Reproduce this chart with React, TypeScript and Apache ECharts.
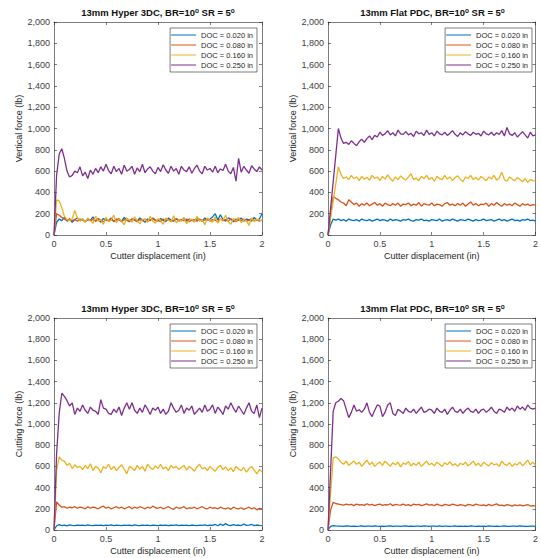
import React, { useEffect, useRef } from 'react';
import * as echarts from 'echarts';

// Cutter displacement samples (in)
const xs = [
  0, 0.025, 0.05, 0.075, 0.1, 0.125, 0.15, 0.175, 0.2, 0.225,
  0.25, 0.275, 0.3, 0.325, 0.35, 0.375, 0.4, 0.425, 0.45, 0.475,
  0.5, 0.525, 0.55, 0.575, 0.6, 0.625, 0.65, 0.675, 0.7, 0.725,
  0.75, 0.775, 0.8, 0.825, 0.85, 0.875, 0.9, 0.925, 0.95, 0.975,
  1, 1.025, 1.05, 1.075, 1.1, 1.125, 1.15, 1.175, 1.2, 1.225,
  1.25, 1.275, 1.3, 1.325, 1.35, 1.375, 1.4, 1.425, 1.45, 1.475,
  1.5, 1.525, 1.55, 1.575, 1.6, 1.625, 1.65, 1.675, 1.7, 1.725,
  1.75, 1.775, 1.8, 1.825, 1.85, 1.875, 1.9, 1.925, 1.95, 1.975,
  2,
];

const docNames = ['DOC = 0.020 in', 'DOC = 0.080 in', 'DOC = 0.160 in', 'DOC = 0.250 in'];

const xTicks = [0, 0.5, 1, 1.5, 2];
const yTickStep = 200;
const yMax = 2000;

// Vertical force, 13mm Hyper 3DC
const vH020 = [
  0, 120, 150, 135, 165, 130, 150, 120, 145, 160,
  135, 150, 125, 145, 140, 170, 130, 150, 120, 155,
  140, 135, 160, 125, 150, 140, 130, 165, 140, 125,
  150, 145, 130, 160, 140, 120, 150, 135, 160, 140,
  130, 155, 140, 125, 160, 140, 130, 150, 145, 135,
  160, 130, 150, 140, 125, 155, 145, 130, 160, 140,
  150, 170, 200, 140, 190, 145, 130, 160, 150, 125,
  150, 140, 160, 130, 150, 145, 130, 165, 140, 150,
  200,
];
const vH080 = [
  0, 200, 185, 165, 150, 140, 150, 135, 145, 130,
  150, 140, 125, 150, 135, 145, 130, 155, 140, 125,
  145, 135, 150, 130, 140, 155, 125, 145, 140, 130,
  150, 140, 125, 145, 135, 150, 130, 140, 155, 135,
  140, 125, 150, 135, 145, 130, 140, 155, 130, 145,
  135, 150, 125, 140, 145, 130, 150, 135, 140, 155,
  130, 145, 140, 125, 150, 135, 145, 130, 150, 140,
  125, 145, 135, 150, 130, 140, 155, 135, 145, 130,
  140,
];
const vH160 = [
  0, 330, 320, 255, 175, 145, 135, 150, 230, 160,
  130, 150, 120, 160, 135, 110, 175, 130, 145, 100,
  165, 125, 140, 185, 115, 150, 130, 95, 160, 140,
  120, 170, 135, 105, 150, 145, 120, 175, 130, 110,
  155, 135, 100, 160, 140, 125, 180, 115, 145, 130,
  165, 105, 140, 150, 120, 175, 130, 145, 95, 160,
  135, 120, 170, 110, 150, 140, 185, 125, 100, 155,
  130, 165, 115, 145, 135, 90, 160, 125, 150, 140,
  135,
];
const vH250 = [
  0, 560, 760, 810, 720, 600, 545, 560, 600, 585,
  640, 555, 590, 530, 610, 570, 625, 585, 640, 600,
  665, 605, 575, 645, 595, 625, 570, 655, 600, 615,
  645, 570, 630, 595, 665, 585, 620, 640, 600, 575,
  635, 595, 660, 610, 580, 645, 600, 625, 570, 645,
  610, 595, 640, 580, 625, 655, 600, 575, 645, 610,
  625, 590, 645, 585, 620, 605, 665, 600, 575, 635,
  505, 720, 590, 645, 610, 580, 650, 620, 595, 640,
  610,
];

// Vertical force, 13mm Flat PDC
const vF020 = [
  0, 95, 150, 140, 150, 135, 145, 130, 150, 140,
  135, 145, 130, 150, 140, 135, 145, 130, 140, 150,
  135, 145, 140, 130, 150, 135, 145, 140, 130, 145,
  140, 150, 135, 130, 145, 140, 150, 135, 140, 130,
  145, 140, 135, 150, 130, 140, 145, 135, 150, 140,
  130, 145, 140, 135, 150, 140, 130, 145, 135, 140,
  150, 135, 140, 145, 130, 140, 150, 135, 145, 130,
  140, 150, 135, 140, 130, 145, 140, 150, 135, 140,
  130,
];
const vF080 = [
  0, 185, 360, 345, 330, 310, 300, 275, 330, 310,
  285, 300, 270, 295, 280, 300, 275, 290, 305, 280,
  295, 270, 300, 285, 275, 295, 280, 300, 270, 290,
  285, 300, 275, 290, 280, 305, 270, 295, 285, 280,
  300, 275, 290, 285, 270, 295, 305, 280, 290, 275,
  295, 280, 300, 270, 290, 310, 280, 295, 275, 290,
  285, 300, 270, 295, 280, 305, 285, 270, 295, 280,
  290, 275, 300, 285, 270, 295, 280, 290, 275, 285,
  280,
];
const vF160 = [
  0, 160, 320, 480, 640, 570, 530, 545, 520, 560,
  530, 545, 510, 550, 525, 540, 515, 560, 530, 545,
  510, 550, 525, 565, 530, 505, 545, 520, 555, 530,
  515, 545, 575, 520, 535, 510, 550, 530, 560, 520,
  540, 505, 550, 530, 520, 560, 525, 545, 510, 540,
  555, 525, 500, 545, 530, 560, 520, 540, 515, 550,
  530, 510, 545, 525, 560, 515, 535, 590, 520, 505,
  545, 525, 510, 540, 520, 500, 530, 495, 520, 510,
  505,
];
const vF250 = [
  0, 250, 500, 750, 1000, 910, 860, 870, 850, 885,
  860, 840, 875, 900, 870, 905, 930, 895, 935, 920,
  965, 935, 950, 980, 940, 960, 930, 985, 950, 945,
  970, 940, 955, 925, 975, 950, 960, 935, 985, 945,
  960, 930, 975, 950, 940, 965, 935, 955, 980, 945,
  925, 960, 940, 970, 950, 935, 965, 945, 955, 930,
  975, 950, 940, 965, 935, 960, 945, 980, 930, 1010,
  950, 935, 960, 920, 945, 970, 940, 910, 965, 930,
  940,
];

// Cutting force, 13mm Hyper 3DC
const cH020 = [
  0, 40, 50, 42, 46, 40, 48, 44, 42, 47,
  43, 45, 41, 48, 44, 42, 46, 43, 47, 41,
  45, 43, 48, 42, 46, 44, 41, 47, 43, 45,
  42, 48, 44, 41, 46, 43, 47, 42, 45, 44,
  41, 47, 43, 46, 42, 45, 44, 48, 41, 46,
  43, 45, 42, 47, 44, 41, 46, 43, 48, 42,
  45, 44, 52, 40, 55, 42, 60, 45, 41, 50,
  44, 47, 42, 55, 43, 46, 52, 41, 47, 44,
  42,
];
const cH080 = [
  0, 265, 235, 215, 220, 205, 215, 210, 220, 205,
  215, 210, 200, 220, 205, 215, 210, 200, 215, 225,
  205, 215, 200, 210, 220, 205, 215, 200, 210, 220,
  200, 215, 205, 220, 210, 200, 215, 205, 225, 210,
  205, 215, 200, 210, 220, 205, 195, 215, 205, 210,
  220, 200, 210, 205, 215, 200, 210, 220, 205, 200,
  215, 205, 210, 200, 215, 205, 200, 210, 195, 215,
  205, 200, 210, 195, 205, 215, 200, 210, 190, 205,
  200,
];
const cH160 = [
  0, 560, 690, 660, 650, 610, 630, 580, 615, 590,
  600, 570, 610, 580, 625, 560, 600, 585, 540, 600,
  580, 620, 570, 600, 560, 590, 615, 575, 530, 600,
  585, 560, 610, 575, 600, 555, 620, 590, 570, 605,
  580, 620, 575, 595, 560, 610, 585, 600, 570, 590,
  610, 565, 600, 580, 555, 595, 620, 575, 590, 560,
  600, 575, 555, 590, 610, 570, 595, 560, 585, 550,
  600, 575, 560, 590, 545, 580, 600, 565, 530, 570,
  550,
];
const cH250 = [
  0, 720, 1100, 1290, 1260, 1220, 1170, 1200, 1090, 1150,
  1120, 1180, 1130, 1100, 1160, 1130, 1120, 1090, 1230, 1150,
  1140, 1100, 1090, 1140, 1110, 1160, 1080, 1150, 1200, 1140,
  1200, 1130, 1100, 1150, 1110, 1180, 1140, 1090, 1150, 1130,
  1160, 1100, 1140, 1090, 1120, 1200, 1150, 1110, 1130, 1180,
  1100, 1150, 1130, 1170, 1090, 1120, 1150, 1110, 1180, 1120,
  1140, 1180, 1100, 1160, 1130, 1090, 1170, 1140, 1200, 1150,
  1110, 1170, 1130, 1090, 1150, 1200, 1120, 1100, 1180, 1060,
  1150,
];

// Cutting force, 13mm Flat PDC
const cF020 = [
  0, 35, 42, 38, 36, 37, 35, 38, 36, 34,
  37, 35, 36, 38, 34, 36, 37, 35, 38, 36,
  35, 37, 34, 36, 38, 35, 36, 37, 34, 36,
  38, 35, 36, 34, 37, 36, 35, 38, 36, 34,
  36, 37, 35, 38, 34, 36, 37, 35, 36, 38,
  35, 36, 34, 37, 35, 38, 36, 35, 37, 34,
  36, 35, 38, 36, 34, 37, 35, 36, 38, 35,
  34, 36, 37, 35, 38, 36, 34, 35, 37, 36,
  35,
];
const cF080 = [
  0, 190, 260, 250, 245, 240, 235, 245, 238, 242,
  230, 245, 236, 240, 232, 248, 235, 242, 230, 240,
  245, 232, 240, 236, 248, 230, 242, 238, 235, 245,
  232, 240, 228, 245, 236, 242, 230, 238, 246, 234,
  240, 230, 245, 235, 228, 242, 236, 232, 245, 238,
  230, 240, 235, 226, 242, 236, 230, 245, 238, 232,
  236, 228, 242, 230, 238, 246, 232, 235, 228, 240,
  234, 225, 238, 230, 236, 228, 232, 240, 226, 230,
  225,
];
const cF160 = [
  0, 350, 680, 690, 670, 640, 620, 650, 610, 630,
  650, 620, 640, 600, 630, 660, 615, 640, 600, 625,
  640, 610, 650, 625, 600, 635, 615, 640, 595, 630,
  620, 645, 605, 630, 610, 640, 600, 625, 650, 615,
  630, 605, 640, 620, 600, 635, 615, 645, 610, 625,
  600, 630, 615, 640, 605, 625, 650, 610, 630, 600,
  640, 620, 605, 635, 615, 625, 600, 650, 620, 610,
  635, 600, 625, 615, 640, 605, 630, 660, 615, 640,
  610,
];
const cF250 = [
  0, 560, 1120, 1200, 1215, 1240, 1220, 1140, 1060, 1110,
  1180, 1120, 1135, 1110, 1140, 1200, 1110, 1070, 1130, 1180,
  1170, 1070, 1110, 1180, 1200, 1100, 1080, 1140, 1120, 1100,
  1150, 1120, 1110, 1140, 1100, 1130, 1160, 1110, 1120, 1140,
  1130, 1100, 1150, 1120, 1110, 1140, 1090, 1130, 1160, 1120,
  1110, 1140, 1100, 1130, 1150, 1120, 1110, 1140, 1100, 1130,
  1140, 1110, 1130, 1160, 1120, 1100, 1140, 1130, 1110, 1160,
  1130, 1150, 1120, 1170, 1140, 1160, 1130, 1180, 1150, 1140,
  1150,
];

const colors = ['#0072BD', '#D95319', '#EDB120', '#7E2F8E'];
const FONT = '"Liberation Sans", Arial, Helvetica, sans-serif';
const AXIS = '#262626';
const LABEL = '#404040';

const panels = [
  { title: '13mm Hyper 3DC, BR=10{s|o} SR = 5{s|o}', yName: 'Vertical force (lb)', series: [vH020, vH080, vH160, vH250], left: 54, top: 22, width: 208, height: 213 },
  { title: '13mm Flat PDC, BR=10{s|o} SR = 5{s|o}', yName: 'Vertical force (lb)', series: [vF020, vF080, vF160, vF250], left: 328, top: 22, width: 209, height: 213 },
  { title: '13mm Hyper 3DC, BR=10{s|o} SR = 5{s|o}', yName: 'Cutting force (lb)', series: [cH020, cH080, cH160, cH250], left: 54, top: 318, width: 208, height: 212 },
  { title: '13mm Flat PDC, BR=10{s|o} SR = 5{s|o}', yName: 'Cutting force (lb)', series: [cF020, cF080, cF160, cF250], left: 328, top: 318, width: 209, height: 212 },
];

function buildOption() {
  const W = 541;
  const axisLineStyle = { color: AXIS, width: 0.6 };
  const grid: any[] = [];
  const xAxis: any[] = [];
  const yAxis: any[] = [];
  const title: any[] = [];
  const legend: any[] = [];
  const series: any[] = [];

  panels.forEach((p, i) => {
    grid.push({ left: p.left, top: p.top, width: p.width, height: p.height, show: false });
    title.push({
      text: p.title,
      left: p.left + p.width / 2,
      top: p.top - 15,
      textAlign: 'center',
      padding: 0,
      textStyle: {
        fontFamily: FONT, fontSize: 9.5, fontWeight: 'bold', color: '#111',
        rich: { s: { fontFamily: FONT, fontSize: 6.5, fontWeight: 'bold', color: '#111', verticalAlign: 'top', lineHeight: 6 } },
      },
    });
    legend.push({
      orient: 'vertical',
      right: W - (p.left + p.width - 5),
      top: p.top + 6,
      data: docNames,
      icon: 'rect',
      itemWidth: 25,
      itemHeight: 1,
      itemGap: 2,
      padding: [3, 4, 3, 1],
      borderColor: AXIS,
      borderWidth: 0.6,
      borderRadius: 0,
      backgroundColor: '#fff',
      selectedMode: false,
      textStyle: { fontFamily: FONT, fontSize: 7.5, color: AXIS, lineHeight: 8 },
    });
  });

  panels.forEach((p, i) => {
    xAxis.push({
      type: 'value', gridIndex: i, min: xTicks[0], max: xTicks[xTicks.length - 1], interval: 0.5,
      position: 'bottom',
      axisLine: { show: true, onZero: false, lineStyle: axisLineStyle },
      axisTick: { show: true, inside: true, length: 3, lineStyle: axisLineStyle },
      axisLabel: { color: LABEL, fontSize: 9, fontFamily: FONT, margin: 4, formatter: (v: number) => String(v) },
      splitLine: { show: false },
      name: 'Cutter displacement (in)', nameLocation: 'middle', nameGap: 16,
      nameTextStyle: { color: '#262626', fontSize: 9, fontFamily: FONT },
    });
    yAxis.push({
      type: 'value', gridIndex: i, min: 0, max: yMax, interval: yTickStep,
      position: 'left',
      axisLine: { show: true, onZero: false, lineStyle: axisLineStyle },
      axisTick: { show: true, inside: true, length: 3, lineStyle: axisLineStyle },
      axisLabel: { color: LABEL, fontSize: 9, fontFamily: FONT, margin: 4, formatter: (v: number) => v.toLocaleString('en-US') },
      splitLine: { show: false },
      name: p.yName, nameLocation: 'middle', nameGap: 28, nameRotate: 90,
      nameTextStyle: { color: '#262626', fontSize: 9, fontFamily: FONT },
    });
  });
  // mirror axes (top / right) to close the box, MATLAB style
  panels.forEach((p, i) => {
    xAxis.push({
      type: 'value', gridIndex: i, min: xTicks[0], max: xTicks[xTicks.length - 1], interval: 0.5,
      position: 'top',
      axisLine: { show: true, onZero: false, lineStyle: axisLineStyle },
      axisTick: { show: true, inside: true, length: 3, lineStyle: axisLineStyle },
      axisLabel: { show: false },
      splitLine: { show: false },
    });
    yAxis.push({
      type: 'value', gridIndex: i, min: 0, max: yMax, interval: yTickStep,
      position: 'right',
      axisLine: { show: true, onZero: false, lineStyle: axisLineStyle },
      axisTick: { show: true, inside: true, length: 3, lineStyle: axisLineStyle },
      axisLabel: { show: false },
      splitLine: { show: false },
    });
  });

  panels.forEach((p, i) => {
    p.series.forEach((vals, k) => {
      series.push({
        type: 'line',
        name: docNames[k],
        xAxisIndex: i,
        yAxisIndex: i,
        data: xs.map((x, j) => [x, vals[j]]),
        symbol: 'none',
        showSymbol: false,
        lineStyle: { width: 1.3, color: colors[k] },
        itemStyle: { color: colors[k] },
        z: 2 + k,
      });
    });
  });

  return {
    animation: false,
    backgroundColor: '#fff',
    textStyle: { fontFamily: FONT },
    title, grid, xAxis, yAxis, legend, series,
  };
}

export default function App() {
  const ref = useRef<HTMLDivElement>(null);
  useEffect(() => {
    const chart = echarts.init(ref.current!, null, { renderer: 'svg' });
    chart.setOption(buildOption() as any);
    return () => chart.dispose();
  }, []);
  return (
    <div
      ref={ref}
      style={{ position: 'fixed', left: 0, top: 0, width: 541, height: 558, background: '#fff' }}
    />
  );
}
